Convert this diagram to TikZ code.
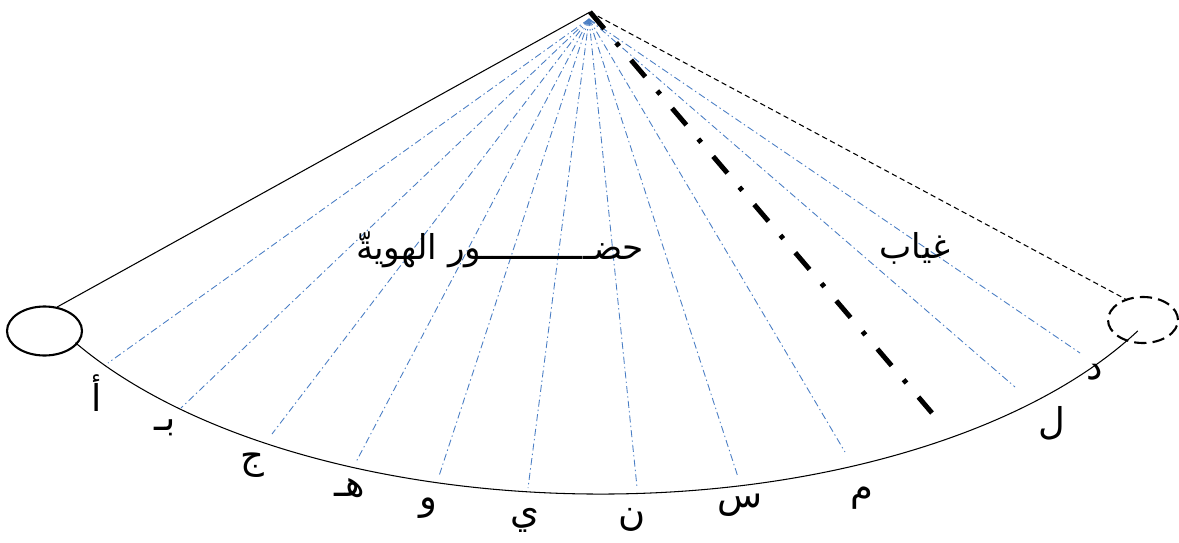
\documentclass[tikz,border=0pt]{standalone}
\usepackage{fontspec}
\usetikzlibrary{shapes.geometric, calc}
\newfontfamily\arabicfont[Script=Arabic]{DejaVu Sans}
\TeXXeTstate=1
\definecolor{rayblue}{HTML}{4A7EC4}

\begin{document}
\begin{tikzpicture}[
    ray/.style={draw=rayblue, line width=0.5pt, dash pattern=on 4pt off 1.8pt on 0.8pt off 1.8pt},
    harf/.style={font=\fontsize{21}{24}\selectfont\arabicfont, inner sep=0pt},
    kalima/.style={font=\fontsize{19.5}{22}\selectfont\arabicfont, inner sep=0pt},
    pole/.style={draw, ellipse, line width=1.2pt, inner sep=0pt},
  ]
  \useasboundingbox (0,0) rectangle (23.58,10.84);

  \coordinate (top) at (11.80,10.60);
  \coordinate (hub) at (11.78,10.46);
  \node[pole, minimum width=1.5cm, minimum height=0.98cm] (hudurpole) at (0.89,4.22) {};
  \node[pole, dash pattern=on 7pt off 3.5pt, minimum width=1.4cm, minimum height=0.92cm] (ghiyabpole) at (22.86,4.44) {};

  % the rim
  \coordinate (rimstart) at ($(12,7.2)+(211:12.24 and 6.24)$);
  \draw[line width=0.6pt] (rimstart) arc[start angle=211, end angle=331.5, x radius=12.24, y radius=6.24];

  % edges of the fan
  \draw[line width=0.6pt] (top) -- (hudurpole.62);
  \draw[line width=0.6pt, dash pattern=on 3pt off 2pt] (top) -- (ghiyabpole.130);

  % rays
  \foreach \x/\y [count=\i] in {2.16/3.58, 3.62/2.68, 5.44/2.16, 7.12/1.60, 8.78/1.32, 10.56/1.08,
                                12.74/1.10, 14.76/1.30, 16.90/1.80, 20.30/3.10, 21.60/3.78}
    \draw[ray] (hub) -- (\x,\y) coordinate (r\i);

  % border between presence and absence
  \coordinate (hadd) at (18.64,2.58);
  \draw[line width=2.8pt, dash pattern=on 12.5pt off 10.5pt on 2.5pt off 10.5pt] (top) -- (hadd);

  \node[kalima] (hudur) at (10.00,5.84) {\beginR حضـــــــــــور الهويةّ\endR};
  \node[kalima] (ghiyab) at (18.30,5.88) {\beginR غياب\endR};

  \node[harf] (alif) at (1.94,2.98) {\beginR أ\endR};
  \node[harf] (ba) at (3.30,2.28) {\beginR بـ\endR};
  \node[harf] (jim) at (5.04,1.54) {\beginR ج\endR};
  \node[harf] (ha) at (7.00,1.08) {\beginR هـ\endR};
  \node[harf] (waw) at (8.56,0.68) {\beginR و\endR};
  \node[harf] (ya) at (10.50,0.44) {\beginR ي\endR};
  \node[harf] (nun) at (12.64,0.44) {\beginR ن\endR};
  \node[harf] (sin) at (14.80,0.74) {\beginR س\endR};
  \node[harf] (mim) at (17.24,0.88) {\beginR م\endR};
  \node[harf] (lam) at (21.04,2.38) {\beginR ل\endR};
  \node[harf] (dal) at (21.90,3.40) {\beginR د\endR};
\end{tikzpicture}
\end{document}
